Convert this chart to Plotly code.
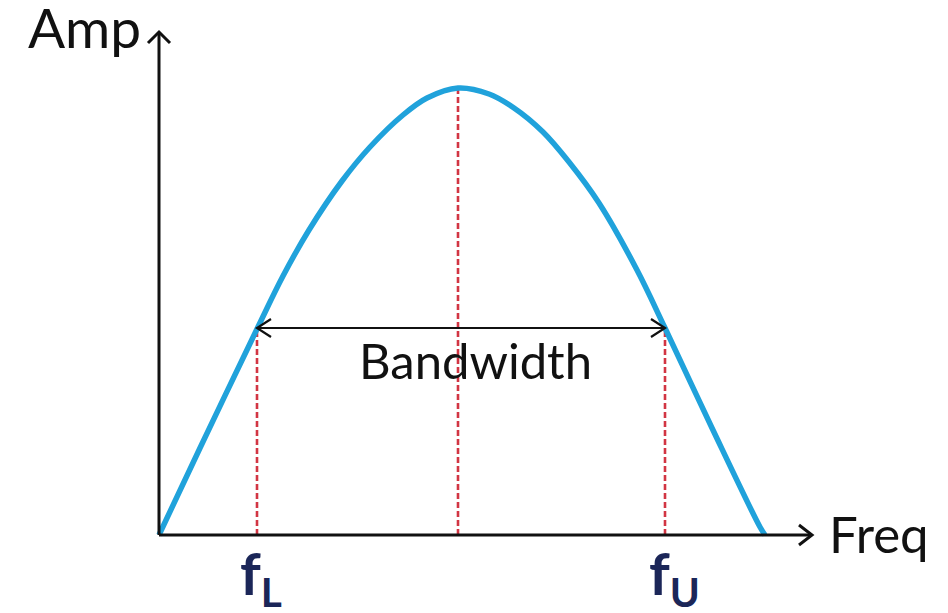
import plotly.graph_objects as go

# ---- data (units = arbitrary freq / amp) ----
freq = [0, 41, 98, 124, 150, 183, 211, 244, 268, 299, 330, 355, 384, 410, 440, 478, 506, 553, 601, 606]
amp = [0, 87, 206, 259, 305, 354, 388, 420, 437, 447, 441, 427, 403, 373, 332, 265, 207, 107, 8, 0]

f_lower = 98
f_center = 299
f_upper = 506
band_amp = 207
peak_amp = 447

axis_x_end = 653
axis_y_end = 503

labels = {"amp": "Amp", "freq": "Freq", "band": "Bandwidth", "fl": "f<sub>L</sub>", "fu": "f<sub>U</sub>"}

CURVE = "#20a2db"
RED = "#d23543"
NAVY = "#1b2658"
BLACK = "#111111"

fig = go.Figure()

# red dashed verticals
for fx, top in [(f_lower, band_amp), (f_center, peak_amp), (f_upper, band_amp)]:
    fig.add_trace(go.Scatter(x=[fx, fx], y=[0, top], mode="lines",
                             line=dict(color=RED, width=2.6, dash="6px,3px"),
                             hoverinfo="skip", showlegend=False))

# response curve
fig.add_trace(go.Scatter(x=freq, y=amp, mode="lines",
                         line=dict(color=CURVE, width=5.5, shape="spline", smoothing=1.0),
                         hoverinfo="skip", showlegend=False))

shapes = []
# axes
shapes.append(dict(type="line", x0=0, y0=0, x1=axis_x_end, y1=0, line=dict(color=BLACK, width=3)))
shapes.append(dict(type="line", x0=0, y0=0, x1=0, y1=axis_y_end, line=dict(color=BLACK, width=3)))
# axis arrowheads (chevrons)
shapes.append(dict(type="path", path=f"M {axis_x_end-13},10 L {axis_x_end},0 L {axis_x_end-13},-10",
                   line=dict(color=BLACK, width=3)))
shapes.append(dict(type="path", path=f"M -11,{axis_y_end-11} L 0,{axis_y_end} L 11,{axis_y_end-11}",
                   line=dict(color=BLACK, width=3)))
# bandwidth arrow
shapes.append(dict(type="line", x0=f_lower, y0=band_amp, x1=f_upper, y1=band_amp, line=dict(color=BLACK, width=2.2)))
shapes.append(dict(type="path", path=f"M {f_lower+14},{band_amp+9} L {f_lower},{band_amp} L {f_lower+14},{band_amp-9}",
                   line=dict(color=BLACK, width=2.2)))
shapes.append(dict(type="path", path=f"M {f_upper-14},{band_amp+9} L {f_upper},{band_amp} L {f_upper-14},{band_amp-9}",
                   line=dict(color=BLACK, width=2.2)))

font_main = "Lato, 'Open Sans', sans-serif"
annotations = [
    dict(x=-75, y=508, text=labels["amp"], showarrow=False, xanchor="center", yanchor="middle",
         font=dict(family=font_main, size=55, color=BLACK)),
    dict(x=720, y=2, text=labels["freq"], showarrow=False, xanchor="center", yanchor="middle",
         font=dict(family=font_main, size=51, color=BLACK)),
    dict(x=316, y=175, text=labels["band"], showarrow=False, xanchor="center", yanchor="middle",
         font=dict(family=font_main, size=49, color=BLACK)),
    dict(x=f_lower + 4, y=-42, text=labels["fl"], showarrow=False, xanchor="center", yanchor="middle",
         font=dict(family=font_main, size=58, color=NAVY, weight="bold")),
    dict(x=f_upper + 9, y=-42, text=labels["fu"], showarrow=False, xanchor="center", yanchor="middle",
         font=dict(family=font_main, size=58, color=NAVY, weight="bold")),
]

fig.update_layout(
    width=948, height=613,
    margin=dict(l=0, r=0, t=0, b=0),
    paper_bgcolor="white", plot_bgcolor="white",
    xaxis=dict(range=[-159, 789], visible=False, fixedrange=True),
    yaxis=dict(range=[-78, 535], visible=False, fixedrange=True),
    shapes=shapes, annotations=annotations, showlegend=False,
)

fig.write_html("out.html", config={"displayModeBar": False},
               post_script="document.body.style.margin='0';document.body.style.overflow='hidden';")
